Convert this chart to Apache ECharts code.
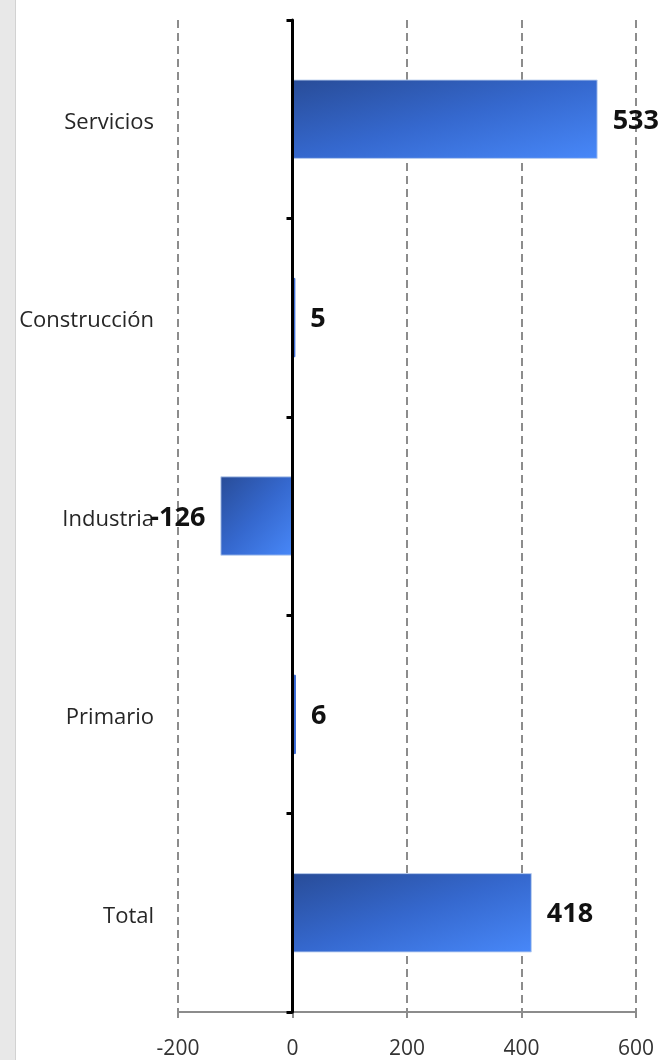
<!DOCTYPE html>
<html>
<head>
<meta charset="utf-8">
<script src="https://cdn.jsdelivr.net/npm/echarts@6/dist/echarts.min.js"></script>
<style>
html,body{margin:0;padding:0;background:#fff;}
#c{width:666px;height:1060px;}
</style>
</head>
<body>
<div id="c"></div>
<script>
var categories = ['Total', 'Primario', 'Industria', 'Construcción', 'Servicios'];
var values = [418, 6, -126, 5, 533];
var xTicks = { min: -200, max: 600, interval: 200 };

var chart = echarts.init(document.getElementById('c'));
var font = '"Open Sans", "Noto Sans", sans-serif';
function makeGrad(x2, y2) {
  return new echarts.graphic.LinearGradient(0, 0, x2, y2, [
    { offset: 0, color: '#284c98' },
    { offset: 0.5, color: '#3568ce' },
    { offset: 1, color: '#4888f9' }
  ]);
}
chart.setOption({
  animation: false,
  backgroundColor: '#ffffff',
  graphic: [
    { type: 'rect', left: 0, top: 0, shape: { width: 15, height: 1060 }, style: { fill: '#e8e8e8' }, z: 10 },
    { type: 'rect', left: 15, top: 0, shape: { width: 1, height: 1060 }, style: { fill: '#d2d2d2' }, z: 10 }
  ],
  grid: { left: 178, right: 30, top: 20, bottom: 48, containLabel: false },
  xAxis: {
    type: 'value',
    min: xTicks.min, max: xTicks.max, interval: xTicks.interval,
    axisLine: { show: true, onZero: false, lineStyle: { color: '#8c8c8c', width: 2 } },
    axisTick: { show: true, length: 6, lineStyle: { color: '#8c8c8c', width: 2 } },
    axisLabel: { color: '#333333', fontSize: 21, fontFamily: font, margin: 27 },
    splitLine: { show: true, lineStyle: { color: '#8c8c8c', width: 2, type: [8, 5] } }
  },
  yAxis: [
    {
      type: 'category',
      data: categories,
      position: 'left',
      axisLine: { show: false, onZero: false },
      axisTick: { show: false },
      axisLabel: {
        margin: 24,
        formatter: function (v) { return '{a|' + v + '}'; },
        rich: { a: { color: '#262626', fontSize: 22, fontFamily: font, lineHeight: 22, padding: [7, 0, 0, 0] } }
      },
      splitLine: { show: false }
    },
    {
      type: 'category',
      data: categories,
      position: 'left',
      z: 5,
      axisLine: { show: true, onZero: true, lineStyle: { color: '#000000', width: 3 } },
      axisTick: { show: true, length: 6, lineStyle: { color: '#000000', width: 3 } },
      axisLabel: { show: false },
      splitLine: { show: false }
    }
  ],
  series: [{
    type: 'bar',
    yAxisIndex: 0,
    data: values,
    barWidth: '40%',
    itemStyle: { color: makeGrad(1, 1), borderColor: 'rgba(190,208,240,0.9)', borderWidth: 1 },
    label: {
      show: true,
      position: 'right',
      distance: 15,
      offset: [0, 2],
      fontSize: 27,
      fontWeight: 'bold',
      fontFamily: font,
      color: '#111111'
    }
  }]
});
// Per-bar gradient: diagonal in the bar's own box (corner to corner), read from the library's layout
var sd = chart.getModel().getSeriesByIndex(0).getData();
var data = values.map(function (v, i) {
  var lay = sd.getItemLayout(i);
  var w = Math.abs(lay.width), h = Math.abs(lay.height);
  var item = { value: v };
  if (w < 10) {
    item.itemStyle = { color: '#3a6ad6', borderColor: '#3a6ad6' };
  } else {
    var d = h * h + w * w;
    item.itemStyle = { color: makeGrad(2 * h * h / d, 2 * w * w / d) };
  }
  if (v < 0) item.label = { position: 'left' };
  return item;
});
chart.setOption({ series: [{ data: data }] });
</script>
</body>
</html>
